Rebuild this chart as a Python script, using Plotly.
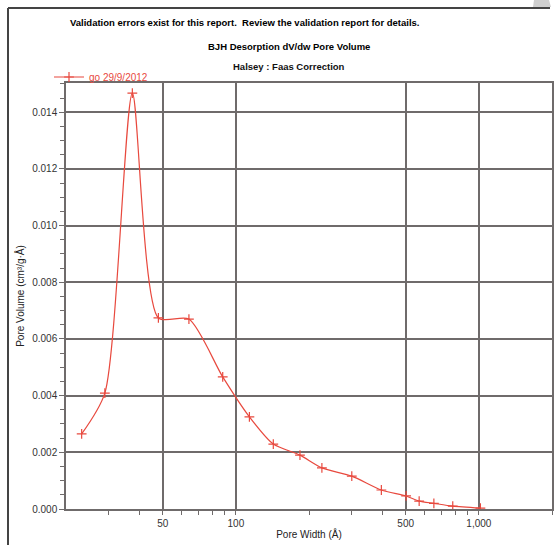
import plotly.graph_objects as go

# Data
pore_width = [23.2, 28.9, 37.5, 48.0, 64.1, 88.3, 113.7, 142.6, 183.6, 226, 300, 397, 502, 568, 653, 781, 1015]
pore_volume = [0.00265, 0.00409, 0.01467, 0.00674, 0.00670, 0.00466, 0.00325, 0.00229, 0.00190,
               0.00145, 0.00116, 0.00067, 0.00046, 0.00028, 0.00020, 0.00010, 0.00003]
series_name = "go 29/9/2012"

x_tick_vals = [50, 100, 500, 1000]
x_tick_text = ["50", "100", "500", "1,000"]
x_minor_vals = [30, 40, 60, 70, 80, 90, 200, 300, 400, 600, 700, 800, 900, 2000]

W, H = 559, 545
L, R, T, B = 66, 552, 83, 509
pw, ph = R - L, B - T

def px(x):
    return (x - L) / pw

def py(y):
    return (B - y) / ph

RED = "#e8493e"
GRID = "#6f6b6b"
FONT = "Liberation Sans, Arial, sans-serif"

fig = go.Figure()
fig.add_trace(go.Scatter(
    x=pore_width, y=pore_volume, name=series_name,
    mode="lines+markers",
    line=dict(color=RED, width=1.2, shape="spline", smoothing=0.7),
    marker=dict(symbol="cross-thin", size=7, line=dict(color=RED, width=1.2)),
))

fig.update_layout(
    width=W, height=H,
    margin=dict(l=L, r=W - R, t=T, b=H - B, autoexpand=False),
    paper_bgcolor="white", plot_bgcolor="white",
    font=dict(family=FONT, size=10, color="#333333"),
    showlegend=True,
    legend=dict(x=px(49), y=py(77), xanchor="left", yanchor="middle",
                bgcolor="rgba(0,0,0,0)", font=dict(color=RED, size=10),
                itemwidth=30, tracegroupgap=0),
    xaxis=dict(
        type="log", range=[1.30103, 3.30103], automargin=False,
        tickmode="array", tickvals=x_tick_vals, ticktext=x_tick_text,
        ticks="outside", ticklen=4, tickwidth=1, tickcolor=GRID,
        showgrid=True, gridcolor=GRID, gridwidth=1.5,
        showline=True, linecolor=GRID, linewidth=1.5, mirror=True,
        minor=dict(tickmode="array", tickvals=x_minor_vals, ticks="outside",
                   ticklen=4, tickcolor=GRID, tickwidth=1, showgrid=False),
        tickfont=dict(size=10, color="#333333"),
        title=dict(text="Pore Width (Å)", font=dict(size=10, color="#222222"), standoff=3),
        zeroline=False,
    ),
    yaxis=dict(
        range=[0, 0.01503], dtick=0.002, tick0=0, tickformat=".3f", automargin=False,
        ticks="outside", ticklen=5, tickwidth=1, tickcolor=GRID,
        showgrid=True, gridcolor=GRID, gridwidth=1.5,
        showline=True, linecolor=GRID, linewidth=1.5, mirror=True,
        minor=dict(dtick=0.0005, ticks="outside", ticklen=4, tickcolor=GRID,
                   tickwidth=1, showgrid=False),
        tickfont=dict(size=10, color="#333333"),
        title=dict(text="Pore Volume (cm³/g·Å)", font=dict(size=10, color="#222222"), standoff=6),
        zeroline=False,
    ),
)

annotations = [
    dict(text="<b>Validation errors exist for this report.  Review the validation report for details.</b>",
         x=px(244), y=py(23), font=dict(size=9.5, color="black")),
    dict(text="<b>BJH Desorption dV/dw Pore Volume</b>",
         x=px(289), y=py(47), font=dict(size=9.5, color="black")),
    dict(text="<b>Halsey : Faas Correction</b>",
         x=px(289), y=py(66), font=dict(size=9.5, color="#111111")),
]
for a in annotations:
    a.update(xref="paper", yref="paper", showarrow=False, xanchor="center", yanchor="middle")
fig.update_layout(annotations=annotations)

shapes = [
    dict(type="line", xref="paper", yref="paper", x0=px(8), x1=px(550), y0=py(8), y1=py(8),
         line=dict(color="#444444", width=2)),
    dict(type="line", xref="paper", yref="paper", x0=px(8), x1=px(8), y0=py(8), y1=py(545),
         line=dict(color="#444444", width=2)),
    dict(type="path", xref="paper", yref="paper",
         path=f"M {px(534)} {py(0)} L {px(549)} {py(0)} L {px(551)} {py(7)} L {px(533)} {py(7)} Z",
         fillcolor="#cfcfcf", line=dict(width=0)),
]
fig.update_layout(shapes=shapes)

fig.write_html("out.html", config={"displayModeBar": False},
               post_script="document.body.style.margin='0';document.body.style.overflow='hidden';")
